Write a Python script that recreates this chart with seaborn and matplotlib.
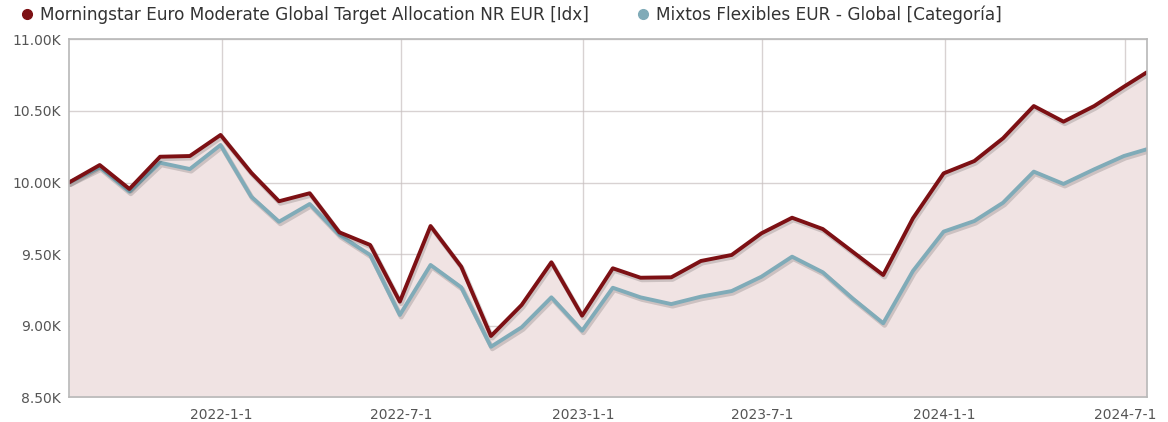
import matplotlib
matplotlib.use("Agg")
import matplotlib.pyplot as plt
import matplotlib.dates as mdates
import matplotlib.patheffects as pe
from matplotlib.lines import Line2D
from matplotlib.ticker import FixedLocator, FuncFormatter
import seaborn as sns
import pandas as pd

# ---- data ----
dates = list(pd.date_range("2021-07-31", "2024-06-30", freq="ME")) + [pd.Timestamp("2024-07-23")]
index_name = "Morningstar Euro Moderate Global Target Allocation NR EUR [Idx]"
category_name = "Mixtos Flexibles EUR - Global [Categoría]"
index_values = [10000, 10122, 9955, 10180, 10185, 10332,
                10068, 9869, 9925, 9652, 9564, 9168, 9696, 9412, 8928, 9145, 9443, 9070,
                9401, 9335, 9338, 9452, 9494, 9645, 9754, 9675, 9517, 9354, 9750, 10064,
                10150, 10309, 10534, 10425, 10534, 10669, 10769]
category_values = [10000, 10106, 9936, 10138, 10094, 10262,
                   9901, 9726, 9850, 9633, 9494, 9075, 9424, 9268, 8853, 8989, 9198, 8965,
                   9265, 9198, 9151, 9203, 9242, 9342, 9482, 9373, 9191, 9017, 9382, 9657,
                   9731, 9859, 10076, 9990, 10092, 10185, 10232]
y_ticks = [8500, 9000, 9500, 10000, 10500, 11000]
x_ticks = ["2022-1-1", "2022-7-1", "2023-1-1", "2023-7-1", "2024-1-1", "2024-7-1"]

RED = "#7d1014"
BLUE = "#80abb8"
FILL = "#f0e3e3"

df = pd.DataFrame({"date": dates, "index": index_values, "category": category_values})

sns.set_style("white")
plt.rcParams["font.family"] = ["DejaVu Sans"]

fig = plt.figure(figsize=(11.68, 4.22), dpi=100)
ax = fig.add_axes([69 / 1168, 1 - 397.3 / 422, (1146.7 - 69) / 1168, (397.3 - 39.3) / 422])

ax.fill_between(df["date"], df["index"], y_ticks[0], color=FILL, zorder=1, linewidth=0)

shadow = [pe.SimpleLineShadow(offset=(1, -1.5), shadow_color="#000000", alpha=0.15, linewidth=3.5), pe.Normal()]
sns.lineplot(data=df, x="date", y="category", ax=ax, color=BLUE, linewidth=2.8, zorder=3,
             path_effects=shadow)
sns.lineplot(data=df, x="date", y="index", ax=ax, color=RED, linewidth=2.8, zorder=4,
             path_effects=shadow)

ax.set_xlim(pd.Timestamp("2021-07-31"), pd.Timestamp("2024-07-23"))
ax.set_ylim(y_ticks[0], y_ticks[-1])
ax.yaxis.set_major_locator(FixedLocator(y_ticks))
ax.yaxis.set_major_formatter(FuncFormatter(lambda v, p: f"{v / 1000:.2f}K"))
ax.set_xticks([mdates.date2num(pd.Timestamp(t)) for t in x_ticks])
ax.set_xticklabels(x_ticks)
ax.set_xlabel("")
ax.set_ylabel("")

ax.grid(True, color="#c8c0c0", linewidth=1, alpha=0.7, zorder=2)
for gl in ax.get_xgridlines() + ax.get_ygridlines():
    gl.set_zorder(2)
for s in ax.spines.values():
    s.set_color("#b8b8b8")
    s.set_linewidth(1.2)
    s.set_zorder(5)
ax.tick_params(axis="both", length=0, labelsize=10, colors="#555555", pad=6)
ax.tick_params(axis="x", pad=8)

handles = [Line2D([], [], marker="o", linestyle="none", markersize=7, color=RED),
           Line2D([], [], marker="o", linestyle="none", markersize=7, color=BLUE)]
fig.legend(handles, [index_name, category_name], loc="upper left", bbox_to_anchor=(0.003, 1.024),
           ncol=2, frameon=False, fontsize=12.15, handlelength=1.0, handletextpad=0.28,
           columnspacing=2.68, labelcolor="#333333")

fig.savefig("out.png", dpi=100, facecolor="white")
